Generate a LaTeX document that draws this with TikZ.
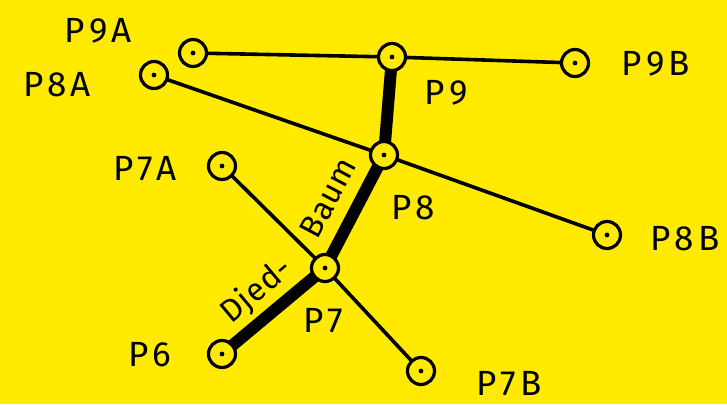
\documentclass[tikz,border=0pt]{standalone}
\usepackage{fontspec}
\setmainfont{Fira Sans}[LetterSpace=12]
\definecolor{bg}{RGB}{255,234,0}
\begin{document}
\begin{tikzpicture}[x=1pt,y=-1pt,
  pt/.style={circle,draw=black,line width=3.2pt,fill=bg,minimum size=27pt,inner sep=0pt,
    path picture={\fill[black] (path picture bounding box.center) circle (2.4pt);}},
  lbl/.style={font=\fontsize{35}{35}\selectfont,text=black,inner sep=0pt},
  thin/.style={line width=3.6pt,line cap=round},
  thick/.style={line width=12pt}]
\fill[bg] (0,0) rectangle (727,404);
\useasboundingbox (0,0) rectangle (727,404);
% links (drawn first)
\coordinate (c9a) at (193,53);
\coordinate (c8a) at (154,75);
\coordinate (c9) at (392,57);
\coordinate (c9b) at (575,63);
\coordinate (c8) at (384,155);
\coordinate (c8b) at (607,235);
\coordinate (c7a) at (222,166);
\coordinate (c7) at (325,268);
\coordinate (c6) at (222,354);
\coordinate (c7b) at (421,371);
\draw[thin] (c9a) -- (c9) -- (c9b);
\draw[thin] (c8a) -- (c8) -- (c8b);
\draw[thin] (c7a) -- (c7) -- (c7b);
\draw[thick] (c6) -- (c7) -- (c8) -- (c9);
% nodes
\node[pt] (p9a) at (c9a) {};
\node[pt] (p8a) at (c8a) {};
\node[pt] (p9) at (c9) {};
\node[pt] (p9b) at (c9b) {};
\node[pt] (p8) at (c8) {};
\node[pt] (p8b) at (c8b) {};
\node[pt] (p7a) at (c7a) {};
\node[pt] (p7) at (c7) {};
\node[pt] (p6) at (c6) {};
\node[pt] (p7b) at (c7b) {};
% labels
\node[lbl] (l9a) at (98,31) {P9A};
\node[lbl] (l8a) at (57,85) {P8A};
\node[lbl] (l7a) at (145,169) {P7A};
\node[lbl] (l9) at (446,93) {P9};
\node[lbl] (l9b) at (656,64) {P9B};
\node[lbl] (l8) at (413,208) {P8};
\node[lbl] (l8b) at (685,239) {P8B};
\node[lbl] (l7) at (323,321) {P7};
\node[lbl] (l6) at (150,355) {P6};
\node[lbl] (l7b) at (509,384) {P7B};
\node[lbl,rotate=40,font=\fontsize{32}{32}\selectfont\addfontfeatures{LetterSpace=2}] (ld) at (257,291) {Djed-};
\node[lbl,rotate=62,font=\fontsize{32}{32}\selectfont\addfontfeatures{LetterSpace=2}] (lb) at (328,198) {Baum};
\end{tikzpicture}
\end{document}
